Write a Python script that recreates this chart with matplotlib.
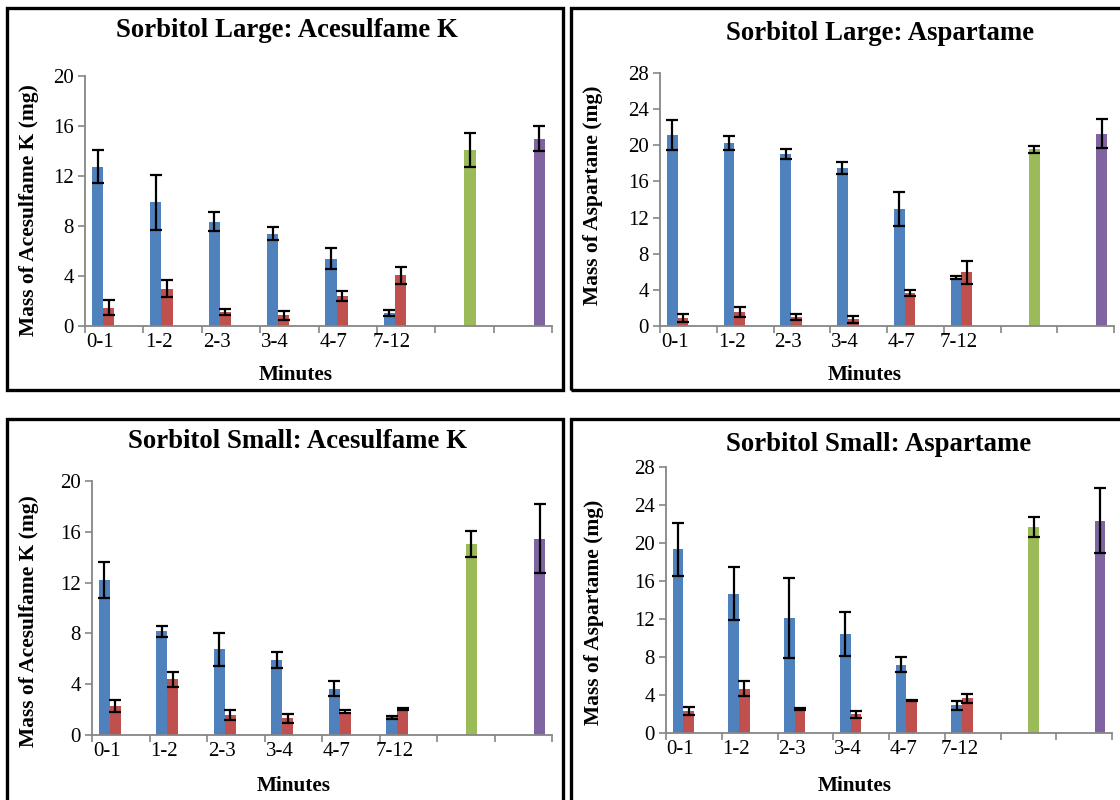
import numpy as np
import matplotlib
matplotlib.use('Agg')
import matplotlib.pyplot as plt
from matplotlib.patches import Rectangle

plt.rcParams['font.family'] = ['Liberation Serif', 'DejaVu Serif']

nan = np.nan
categories = ['0-1', '1-2', '2-3', '3-4', '4-7', '7-12', '', '']

## Sorbitol Large: Acesulfame K ##
la_blue = [12.75, 9.9, 8.35, 7.4, 5.4, 1.05, nan, nan]
la_blue_err = [1.3, 2.2, 0.75, 0.5, 0.85, 0.27, nan, nan]
la_red = [1.45, 3.0, 1.15, 0.85, 2.4, 4.05, nan, nan]
la_red_err = [0.6, 0.65, 0.25, 0.37, 0.4, 0.7, nan, nan]
la_green = [nan, nan, nan, nan, nan, nan, 14.1, nan]
la_green_err = [nan, nan, nan, nan, nan, nan, 1.35, nan]
la_purple = [nan, nan, nan, nan, nan, nan, nan, 15.0]
la_purple_err = [nan, nan, nan, nan, nan, nan, nan, 1.0]

## Sorbitol Large: Aspartame ##
lp_blue = [21.15, 20.3, 19.0, 17.5, 12.95, 5.35, nan, nan]
lp_blue_err = [1.7, 0.78, 0.56, 0.7, 1.85, 0.17, nan, nan]
lp_red = [0.85, 1.5, 1.0, 0.75, 3.65, 5.95, nan, nan]
lp_red_err = [0.44, 0.55, 0.3, 0.37, 0.37, 1.25, nan, nan]
lp_green = [nan, nan, nan, nan, nan, nan, 19.55, nan]
lp_green_err = [nan, nan, nan, nan, nan, nan, 0.35, nan]
lp_purple = [nan, nan, nan, nan, nan, nan, nan, 21.3]
lp_purple_err = [nan, nan, nan, nan, nan, nan, nan, 1.65]

## Sorbitol Small: Acesulfame K ##
sa_blue = [12.2, 8.15, 6.75, 5.9, 3.65, 1.4, nan, nan]
sa_blue_err = [1.4, 0.47, 1.3, 0.6, 0.6, 0.13, nan, nan]
sa_red = [2.3, 4.4, 1.6, 1.3, 1.85, 2.05, nan, nan]
sa_red_err = [0.47, 0.6, 0.38, 0.37, 0.15, 0.1, nan, nan]
sa_green = [nan, nan, nan, nan, nan, nan, 15.05, nan]
sa_green_err = [nan, nan, nan, nan, nan, nan, 1.0, nan]
sa_purple = [nan, nan, nan, nan, nan, nan, nan, 15.45]
sa_purple_err = [nan, nan, nan, nan, nan, nan, nan, 2.7]

## Sorbitol Small: Aspartame ##
sp_blue = [19.35, 14.65, 12.1, 10.45, 7.2, 2.9, nan, nan]
sp_blue_err = [2.8, 2.8, 4.25, 2.3, 0.75, 0.5, nan, nan]
sp_red = [2.3, 4.65, 2.55, 1.95, 3.45, 3.65, nan, nan]
sp_red_err = [0.45, 0.8, 0.1, 0.4, 0.05, 0.45, nan, nan]
sp_green = [nan, nan, nan, nan, nan, nan, 21.7, nan]
sp_green_err = [nan, nan, nan, nan, nan, nan, 1.05, nan]
sp_purple = [nan, nan, nan, nan, nan, nan, nan, 22.35]
sp_purple_err = [nan, nan, nan, nan, nan, nan, nan, 3.4]

colors = ['#4F81BD', '#C0504D', '#9BBB59', '#8064A2']
W, H = 1120, 800

fig = plt.figure(figsize=(11.2, 8), dpi=100)


def fx(px):
    return px / W


def fy(py):
    return 1 - py / H


def panel(rect, series, ymax, title, title_xy, ylabel, ylabel_xy, xlabel_xy):
    l, t, r, b = rect
    ax = fig.add_axes([fx(l), fy(b), fx(r - l), (b - t) / H])
    x = np.arange(len(categories))
    w = 1 / 5.25
    for k, (vals, errs) in enumerate(series):
        pos = x + (k - 1.5) * w
        ax.bar(pos, vals, width=w, color=colors[k], zorder=2)
        ax.errorbar(pos, vals, yerr=errs, fmt='none', ecolor='black',
                    elinewidth=1.6, capsize=4.5, capthick=1.6, zorder=3)
    ax.set_xlim(-0.5, len(categories) - 0.5)
    ax.set_ylim(0, ymax)
    ax.set_yticks(np.arange(0, ymax + 1, 4))
    ax.set_xticks(x - 0.24)
    ax.set_xticklabels(categories)
    ax.set_xticks(np.arange(len(categories) + 1) - 0.5, minor=True)
    ax.tick_params(axis='x', which='major', length=0, labelsize=15, pad=5)
    ax.tick_params(axis='x', which='minor', length=5, width=1.2, color='#868686')
    ax.tick_params(axis='y', length=5, width=1.2, color='#868686', labelsize=15, pad=3)
    for s in ['top', 'right']:
        ax.spines[s].set_visible(False)
    for s in ['left', 'bottom']:
        ax.spines[s].set_color('#868686')
        ax.spines[s].set_linewidth(1.3)
    ax.patch.set_alpha(0)
    fig.text(fx(title_xy[0]), fy(title_xy[1]), title, ha='center', va='baseline',
             fontsize=19.3, fontweight='bold')
    fig.text(fx(ylabel_xy[0]), fy(ylabel_xy[1]), ylabel, ha='center', va='center',
             rotation=90, fontsize=15.5, fontweight='bold')
    fig.text(fx(xlabel_xy[0]), fy(xlabel_xy[1]), 'Minutes', ha='center', va='baseline',
             fontsize=15.3, fontweight='bold')
    return ax


panel((85, 76, 552, 326),
      [(la_blue, la_blue_err), (la_red, la_red_err), (la_green, la_green_err), (la_purple, la_purple_err)],
      20, 'Sorbitol Large: Acesulfame K', (287, 37),
      'Mass of Acesulfame K (mg)', (29, 210), (296, 380))
panel((660, 73, 1114, 326),
      [(lp_blue, lp_blue_err), (lp_red, lp_red_err), (lp_green, lp_green_err), (lp_purple, lp_purple_err)],
      28, 'Sorbitol Large: Aspartame', (880, 40),
      'Mass of Aspartane (mg)', (593, 195), (865, 380))
panel((92, 481, 552, 735),
      [(sa_blue, sa_blue_err), (sa_red, sa_red_err), (sa_green, sa_green_err), (sa_purple, sa_purple_err)],
      20, 'Sorbitol Small: Acesulfame K', (297, 448),
      'Mass of Acesulfame K (mg)', (29, 621), (294, 791))
panel((666, 467, 1112, 733),
      [(sp_blue, sp_blue_err), (sp_red, sp_red_err), (sp_green, sp_green_err), (sp_purple, sp_purple_err)],
      28, 'Sorbitol Small: Aspartame', (879, 451),
      'Mass of Aspartame (mg)', (594, 612), (855, 791))

## cadres ##
for (l, t, r, b) in [(7, 8, 563, 390), (571, 8, 1200, 390), (7, 419, 563, 900), (571, 419, 1200, 900)]:
    fig.patches.append(Rectangle((fx(l), fy(b)), fx(r - l), (b - t) / H, transform=fig.transFigure,
                                 fill=False, edgecolor='black', linewidth=2.4))

fig.savefig('out.png', dpi=100)
